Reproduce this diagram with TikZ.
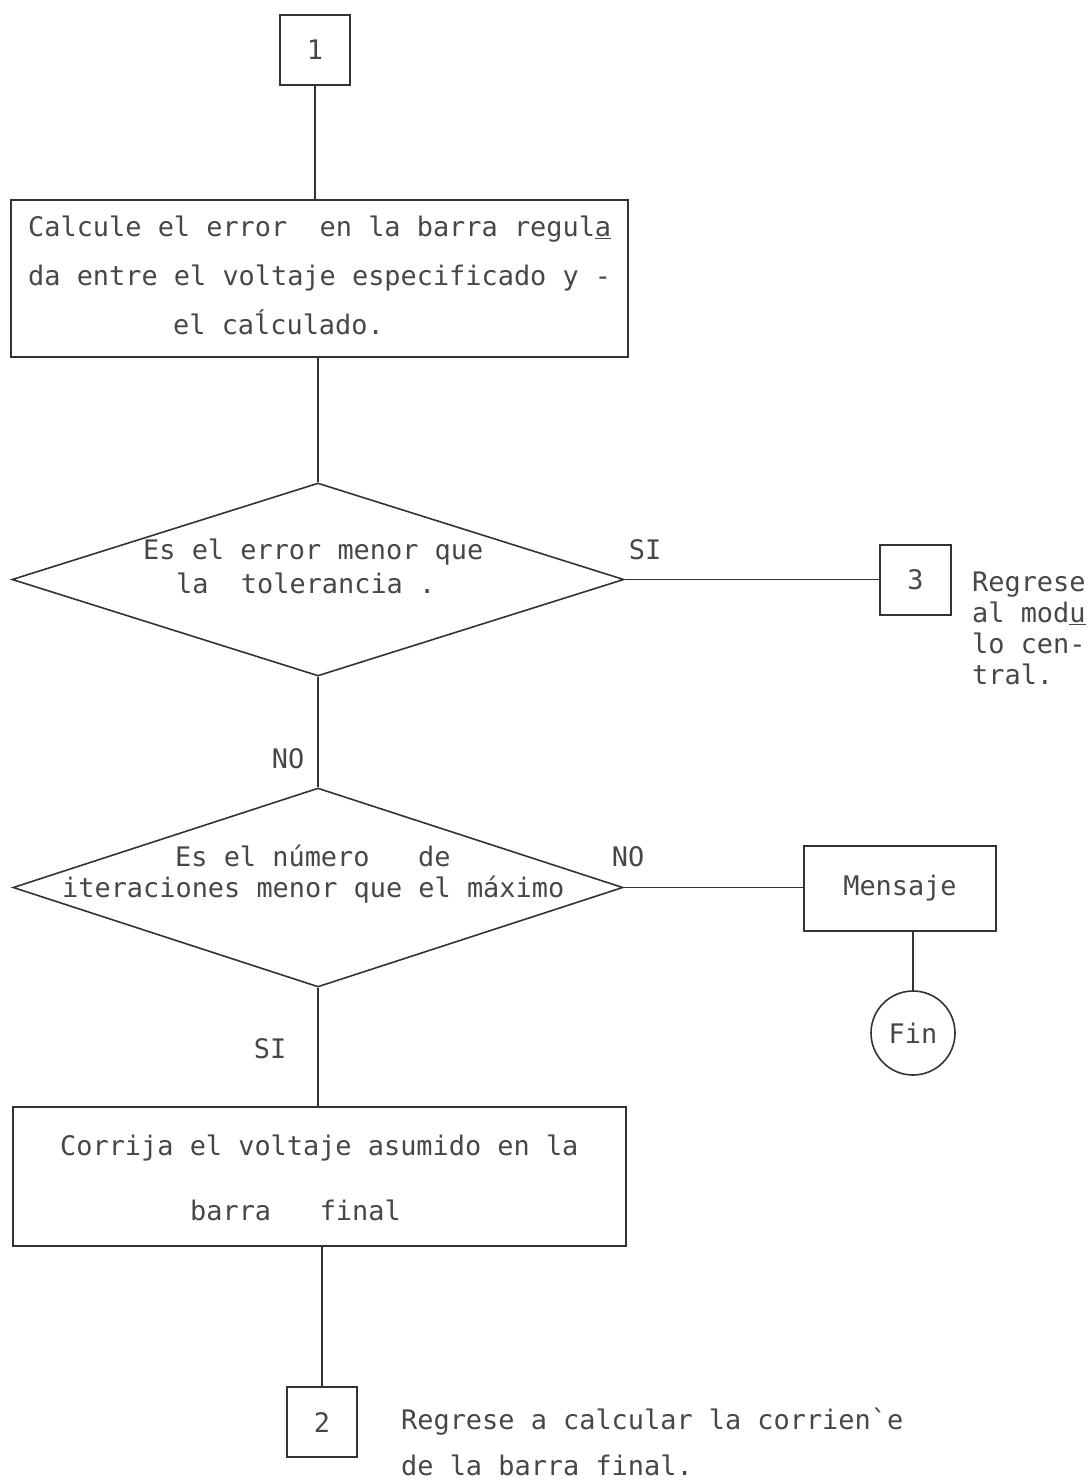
\documentclass[tikz,border=0pt]{standalone}
\usepackage{fontspec}
\newfontfamily\typer{DejaVu Sans Mono}
\usetikzlibrary{shapes.geometric}
\begin{document}
\begin{tikzpicture}[x=1pt,y=-1pt,
  ink/.style={draw=black!80,line width=1.6pt},
  tw/.style={font=\fontsize{26.9}{27}\typer,text=black!72,inner sep=0pt},
  box/.style={ink,rectangle,inner sep=0pt},
  dec/.style={ink,diamond,inner sep=0pt},
  conn/.style={ink}
]
\useasboundingbox (0,0) rectangle (1091,1482);

% boxes and decisions
\node[box,minimum width=70pt,minimum height=70pt,tw] (b1) at (315,50) {1};
\node[box,minimum width=617pt,minimum height=157pt] (calc) at (319.5,278.5) {};
\node[dec,minimum width=612pt,minimum height=193pt] (d1) at (318,579.5) {};
\node[box,minimum width=71pt,minimum height=70pt,tw] (b3) at (915.5,580) {3};
\node[dec,minimum width=610pt,minimum height=199pt] (d2) at (318,887.5) {};
\node[box,minimum width=192pt,minimum height=85pt,tw] (msg) at (900,888.5) {Mensaje};
\node[ink,circle,minimum size=84pt,inner sep=0pt,tw] (fin) at (913,1033) {Fin};
\node[box,minimum width=613pt,minimum height=139pt] (corr) at (319.5,1176.5) {};
\node[box,minimum width=70pt,minimum height=70pt,tw] (b2) at (322,1422) {2};

% texts inside the shapes
\node[tw,anchor=base west] (t1) at (28,236) {Calcule el error\ \ en la barra regul\underline{a}};
\node[tw,anchor=base west] (t2) at (28,285) {da entre el voltaje especificado y -};
\node[tw,anchor=base west] (t3) at (173,334) {el caĺculado.};
\node[tw,anchor=base west] (q1a) at (143,559) {Es el error menor que};
\node[tw,anchor=base west] (q1b) at (176,593) {la\ \ tolerancia .};
\node[tw,anchor=base west] (q2a) at (175,866) {Es el número\ \ \ de};
\node[tw,anchor=base west] (q2b) at (62,897) {iteraciones menor que el máximo};
\node[tw,anchor=base west] (c1) at (60,1155) {Corrija el voltaje asumido en la};
\node[tw,anchor=base west] (c2) at (190,1220) {barra\ \ \ final};

% side notes
\node[tw,anchor=base west] (r1) at (972,591) {Regrese};
\node[tw,anchor=base west] (r2) at (972,622) {al mod\underline{u}};
\node[tw,anchor=base west] (r3) at (972,653) {lo cen-};
\node[tw,anchor=base west] (r4) at (972,684) {tral.};
\node[tw,anchor=base west] (n1) at (401,1429) {Regrese a calcular la corrien\char"60 e};
\node[tw,anchor=base west] (n2) at (401,1475) {de la barra final.};

% branch labels
\node[tw,anchor=base] (si1) at (645,559) {SI};
\node[tw,anchor=base] (no1) at (288,768) {NO};
\node[tw,anchor=base] (no2) at (628,866) {NO};
\node[tw,anchor=base] (si2) at (270,1058) {SI};

% connectors
\draw[conn] (b1.south) -- (b1.south |- calc.north);
\draw[conn] (d1.north |- calc.south) -- (d1.north);
\draw[conn] (d1.south) -- (d2.north);
\draw[conn] (d2.south) -- (d2.south |- corr.north);
\draw[conn] (b2.north |- corr.south) -- (b2.north);
\draw[conn] (d1.east) -- (d1.east -| b3.west);
\draw[conn] (d2.east) -- (d2.east -| msg.west);
\draw[conn] (fin.north |- msg.south) -- (fin.north);
\end{tikzpicture}
\end{document}
